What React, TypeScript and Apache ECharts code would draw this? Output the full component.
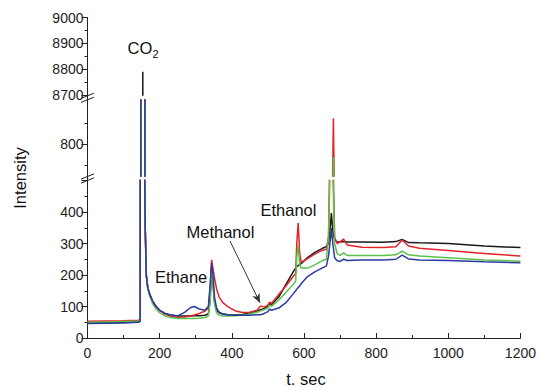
import React, { useEffect, useRef } from "react";
import * as echarts from "echarts";

const times = [0, 50, 100, 140, 146, 148, 152, 156, 158, 160, 163, 167, 172, 180, 190, 200, 215, 230, 250, 270, 285, 296, 310, 325, 335, 340, 344, 348, 352, 358, 365, 375, 390, 410, 430, 450, 470, 480, 490, 500, 505, 510, 530, 550, 570, 577, 580, 584, 588, 592, 610, 630, 650, 662, 668, 672, 676, 680, 685, 692, 700, 710, 720, 760, 820, 855, 872, 890, 920, 1000, 1100, 1200];

const blackVals = [48, 49, 50, 52, 54, 3000, 8790, 3000, 600, 350, 200, 160, 140, 118, 100, 88, 78, 73, 70, 70, 70, 71, 71, 72, 76, 120, 225, 170, 115, 88, 80, 76, 74, 73, 75, 80, 86, 90, 94, 100, 110, 106, 130, 170, 210, 222, 226, 230, 233, 236, 255, 272, 284, 290, 300, 340, 397, 340, 310, 305, 305, 306, 305, 305, 304, 306, 313, 303, 302, 300, 292, 287];
const redVals = [53, 54, 55, 56, 57, 3000, 6000, 3000, 600, 350, 200, 160, 140, 118, 100, 87, 76, 70, 66, 67, 70, 73, 78, 85, 95, 150, 248, 220, 190, 155, 130, 112, 99, 86, 81, 82, 88, 102, 98, 104, 114, 110, 138, 165, 195, 205, 300, 365, 270, 240, 252, 266, 278, 282, 320, 600, 862, 600, 320, 300, 305, 314, 295, 288, 287, 290, 311, 292, 285, 278, 268, 260];
const greenVals = [50, 51, 52, 54, 55, 3000, 6000, 3000, 600, 350, 200, 158, 135, 110, 92, 80, 70, 65, 62, 62, 62, 62, 63, 65, 70, 120, 222, 170, 110, 80, 72, 70, 70, 71, 73, 76, 82, 86, 90, 96, 104, 100, 120, 145, 170, 180, 255, 295, 235, 222, 222, 232, 245, 250, 320, 520, 770, 520, 300, 268, 262, 270, 262, 262, 262, 264, 276, 264, 260, 255, 248, 244];
const blueVals = [46, 47, 48, 50, 52, 3000, 6000, 3000, 600, 350, 200, 160, 140, 118, 100, 88, 78, 73, 70, 82, 96, 100, 92, 88, 100, 170, 238, 200, 130, 95, 82, 76, 73, 72, 72, 72, 74, 74, 78, 84, 92, 88, 95, 112, 140, 150, 155, 160, 165, 172, 195, 210, 222, 228, 260, 300, 349, 300, 255, 245, 243, 250, 246, 248, 248, 250, 263, 251, 248, 246, 242, 239];

const seriesDefs = [
  { name: "black", color: "#1a1a1a", values: blackVals },
  { name: "red", color: "#e3232a", values: redVals },
  { name: "green", color: "#5bc24a", values: greenVals },
  { name: "blue", color: "#2d3aa0", values: blueVals },
];

const xTicks = { min: 0, max: 1200, interval: 200 };
const topRange = { min: 8700, max: 9000 };
const midRange = { min: 725, max: 905 };
const botRange = { min: 0, max: 500 };
const midLabels = [800];
const midMinor = [750, 850];

const FONT = '"Liberation Sans", Arial, Helvetica, sans-serif';
const AX = "#222";

export default function App() {
  const ref = useRef<HTMLDivElement>(null);
  useEffect(() => {
    if (!ref.current) return;
    const chart = echarts.init(ref.current, undefined, { renderer: "svg" });
    const L = 87.5;
    const W = 436.5;
    const plain = (v: number) => String(v);
    const grids = [
      { left: L, width: W, top: 17.5, height: 77.5 },
      { left: L, width: W, top: 100, height: 76 },
      { left: L, width: W, top: 180.5, height: 157.5 },
    ];
    const xAxis = [0, 1, 2].map((i) => ({
      type: "value",
      gridIndex: i,
      min: xTicks.min,
      max: xTicks.max,
      interval: xTicks.interval,
      show: i === 2,
      axisLine: { show: true, lineStyle: { color: AX, width: 1 } },
      axisTick: { show: true, inside: true, length: 5, lineStyle: { color: AX } },
      minorTick: { show: true, splitNumber: 2, length: 3, lineStyle: { color: AX } },
      splitLine: { show: false },
      minorSplitLine: { show: false },
      axisLabel: { fontSize: 14, color: AX, margin: 8, fontFamily: FONT, formatter: plain },
    }));
    const baseY = {
      type: "value",
      position: "left",
      axisLine: { show: true, lineStyle: { color: AX, width: 1 } },
      splitLine: { show: false },
      axisLabel: { fontSize: 14, color: AX, margin: 4, fontFamily: FONT, formatter: plain },
    };
    const yAxis: any[] = [
      {
        ...baseY,
        gridIndex: 0,
        min: topRange.min,
        max: topRange.max,
        interval: 100,
        axisTick: { show: true, length: 6, lineStyle: { color: AX } },
        minorTick: { show: true, splitNumber: 2, length: 3, lineStyle: { color: AX } },
      },
      {
        ...baseY,
        gridIndex: 1,
        min: midRange.min,
        max: midRange.max,
        axisTick: { show: true, length: 6, customValues: midLabels, lineStyle: { color: AX } },
        axisLabel: { ...baseY.axisLabel, customValues: midLabels },
      },
      {
        ...baseY,
        gridIndex: 2,
        min: botRange.min,
        max: botRange.max,
        interval: 100,
        axisTick: { show: true, length: 6, lineStyle: { color: AX } },
        minorTick: { show: true, splitNumber: 2, length: 3, lineStyle: { color: AX } },
        axisLabel: {
          ...baseY.axisLabel,
          formatter: (v: number) => (v >= botRange.max ? "" : String(v)),
        },
      },
      {
        ...baseY,
        gridIndex: 1,
        min: midRange.min,
        max: midRange.max,
        axisLine: { show: false },
        axisTick: { show: true, length: 3, customValues: midMinor, lineStyle: { color: AX } },
        axisLabel: { show: false },
      },
    ];
    const series: any[] = [];
    [0, 1, 2].forEach((g) => {
      seriesDefs.forEach((s) => {
        series.push({
          type: "line",
          name: s.name,
          xAxisIndex: g,
          yAxisIndex: g,
          data: times.map((t, i) => [t, s.values[i]]),
          showSymbol: false,
          symbol: "none",
          clip: true,
          lineStyle: { color: s.color, width: 1.5 },
          itemStyle: { color: s.color },
          z: 2,
          ...(g === 2 && s.name === "black"
            ? {
                markLine: {
                  silent: true,
                  symbol: ["none", "arrow"],
                  symbolSize: [6, 9],
                  label: { show: false },
                  lineStyle: { color: "#333", width: 1, type: "solid" },
                  data: [[{ coord: [395, 308] }, { coord: [478, 112] }]],
                },
              }
            : {}),
        });
      });
    });
    const brk = (y: number) => ({
      type: "line",
      shape: { x1: L - 6.5, y1: y + 2.6, x2: L + 6.5, y2: y - 2.6 },
      style: { stroke: AX, lineWidth: 1 },
      z: 10,
    });
    const txt = (text: string, x: number, y: number, size: number, align = "left", extra: any = {}) => ({
      type: "text",
      x,
      y,
      z: 10,
      ...extra,
      style: {
        text,
        fill: "#111",
        font: `${size}px ${FONT}`,
        fontSize: size,
        fontFamily: FONT,
        textAlign: align,
        align,
        textVerticalAlign: "middle",
        verticalAlign: "middle",
      },
    });
    const graphic = [
      { type: "line", shape: { x1: L, y1: 95, x2: L, y2: 100 }, style: { stroke: AX, lineWidth: 1 } },
      { type: "line", shape: { x1: L, y1: 176, x2: L, y2: 180.5 }, style: { stroke: AX, lineWidth: 1 } },
      brk(95.8),
      brk(99.8),
      brk(176.5),
      brk(180.5),
      txt("CO", 127.5, 48, 16.5),
      txt("2", 152.5, 54, 11),
      txt("Ethane", 155, 277, 16.5),
      txt("Methanol", 186.5, 232, 16.5),
      txt("Ethanol", 260.5, 210, 16.5),
      txt("t. sec", 306, 379, 16.5, "center"),
      txt("Intensity", 20, 178, 16.5, "center", { rotation: Math.PI / 2 }),
    ];
    chart.setOption({
      animation: false,
      backgroundColor: "#ffffff",
      grid: grids,
      xAxis,
      yAxis,
      series,
      graphic,
    });
    return () => chart.dispose();
  }, []);
  return (
    <div
      ref={ref}
      style={{ position: "fixed", left: 0, top: 0, width: 539, height: 387, background: "#fff" }}
    />
  );
}
